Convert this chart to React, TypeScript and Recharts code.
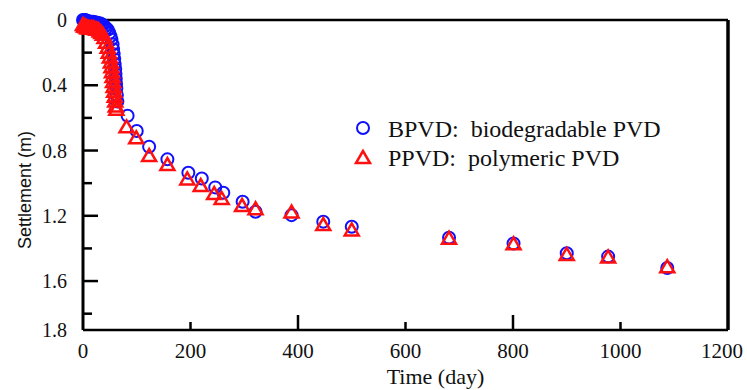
import * as React from "react";
import { ReferenceLine, Scatter, ScatterChart, XAxis, YAxis } from "recharts";

const bpvdDays = [
  0, 2, 4, 6, 8, 10, 13, 16, 19, 22, 25, 28, 31, 34, 37, 40, 43, 46, 49, 51, 53, 55, 56, 57, 58,
  59, 60, 60.5, 61, 61.5, 62, 63, 64, 83, 100, 123, 157, 196, 221, 246, 261, 297, 321, 388, 447,
  500, 681, 801, 900, 977, 1087,
];
const bpvdSettlement = [
  0, 0, 0, 0.005, 0.005, 0.01, 0.01, 0.01, 0.01, 0.015, 0.015, 0.02, 0.02, 0.025, 0.03, 0.04, 0.05,
  0.06, 0.08, 0.1, 0.12, 0.15, 0.18, 0.21, 0.24, 0.27, 0.3, 0.33, 0.36, 0.39, 0.42, 0.46, 0.5,
  0.587, 0.68, 0.777, 0.854, 0.936, 0.971, 1.026, 1.059, 1.114, 1.175, 1.196, 1.236, 1.267, 1.335,
  1.37, 1.43, 1.45, 1.52,
];
const ppvdDays = [
  0, 2, 4, 6, 8, 10, 13, 16, 19, 22, 25, 28, 31, 34, 37, 40, 43, 46, 48, 50, 52, 53, 54, 55, 56,
  57, 58, 59, 60, 61, 62, 81, 99, 123, 157, 194, 219, 244, 258, 296, 321, 388, 447, 500, 681, 801,
  900, 977, 1087,
];
const ppvdSettlement = [
  0.03, 0.04, 0.04, 0.045, 0.05, 0.05, 0.05, 0.05, 0.05, 0.055, 0.06, 0.06, 0.07, 0.08, 0.09, 0.11,
  0.14, 0.17, 0.2, 0.23, 0.26, 0.29, 0.32, 0.35, 0.38, 0.41, 0.44, 0.47, 0.5, 0.53, 0.55, 0.658,
  0.725, 0.834, 0.889, 0.977, 1.018, 1.067, 1.097, 1.14, 1.16, 1.18, 1.257, 1.29, 1.34, 1.375,
  1.44, 1.455, 1.515,
];

const seriesNames = ["BPVD:", "PPVD:"];
const seriesDescriptions = ["biodegradable PVD", "polymeric PVD"];

const xTicks = [0, 200, 400, 600, 800, 1000, 1200];
const xMajor = [0, 400, 800, 1200];
const yTicks = [0, 0.2, 0.4, 0.6, 0.8, 1, 1.2, 1.4, 1.6, 1.8, 1.9];
const yMajor = [0.4, 0.8, 1.2, 1.6];
const yLabels: Record<string, string> = {
  "0": "0",
  "0.4": "0.4",
  "0.8": "0.8",
  "1.2": "1.2",
  "1.6": "1.6",
  "1.9": "1.8",
};

const BLUE = "#1010ff";
const RED = "#ff1010";
const SERIF = "'Liberation Serif', 'Times New Roman', serif";

const bpvd = bpvdDays.map((t, i) => ({ t, s: bpvdSettlement[i] }));
const ppvd = ppvdDays.map((t, i) => ({ t, s: ppvdSettlement[i] }));

const circle = (p: any) => (
  <circle cx={p.cx} cy={p.cy} r={6} fill="none" stroke={BLUE} strokeWidth={2} />
);
const triangle = (p: any) => (
  <polygon
    points={`${p.cx},${p.cy - 7} ${p.cx - 7},${p.cy + 5} ${p.cx + 7},${p.cy + 5}`}
    fill="none"
    stroke={RED}
    strokeWidth={2.5}
  />
);

const XTick = (p: any) => {
  const v = p.payload.value;
  const len = xMajor.includes(v) ? 15 : 8;
  return (
    <g>
      {v > 0 && v < 1200 && <line x1={p.x} x2={p.x} y1={p.y} y2={p.y - len} stroke="#000" strokeWidth={2.5} />}
      <text x={v === 1200 ? p.x - 6 : p.x} y={p.y + 28} textAnchor="middle" fontFamily={SERIF} fontSize={21} fill="#111">
        {v}
      </text>
    </g>
  );
};

const YTick = (p: any) => {
  const v = p.payload.value;
  const len = yMajor.includes(v) ? 15 : 9;
  const label = yLabels[String(v)];
  return (
    <g>
      {v > 0 && v < 1.9 && <line x1={p.x} x2={p.x + len} y1={p.y} y2={p.y} stroke="#000" strokeWidth={2.5} />}
      {label && (
        <text x={p.x - 16} y={p.y + 7} textAnchor="end" fontFamily={SERIF} fontSize={20} fill="#111">
          {label}
        </text>
      )}
    </g>
  );
};

const LegendBox = () => (
  <svg width={390} height={80} style={{ position: "absolute", left: 340, top: 100 }}>
    {seriesNames.map((name, i) => {
      const cy = 28 + i * 29;
      return (
        <g key={name}>
          {i === 0 ? circle({ cx: 23, cy }) : triangle({ cx: 23, cy: cy + 1 })}
          <text x={48} y={cy + 9} fontFamily={SERIF} fontSize={24} fill="#111">
            <tspan>{name}</tspan>
            <tspan dx={12}>{seriesDescriptions[i]}</tspan>
          </text>
        </g>
      );
    })}
  </svg>
);

export default function App() {
  return (
    <div style={{ position: "absolute", left: 0, top: 0, width: 747, height: 390, background: "#fff" }}>
      <ScatterChart width={747} height={390} margin={{ top: 20, right: 19, bottom: 0, left: 0 }}>
        <XAxis
          type="number"
          dataKey="t"
          domain={[0, 1200]}
          ticks={xTicks}
          interval={0}
          height={60}
          tickSize={0}
          tickMargin={0}
          tickLine={false}
          axisLine={{ stroke: "#000", strokeWidth: 2.5 }}
          tick={<XTick />}
          label={(props: any) => {
            const vb = props.viewBox;
            return (
              <text
                x={vb.x + vb.width / 2 + 30}
                y={vb.y + 54}
                textAnchor="middle"
                fontFamily={SERIF}
                fontSize={22}
                fill="#111"
              >
                Time (day)
              </text>
            );
          }}
        />
        <YAxis
          type="number"
          dataKey="s"
          reversed
          domain={[0, 1.9]}
          ticks={yTicks}
          interval={0}
          width={83}
          tickSize={0}
          tickMargin={0}
          tickLine={false}
          axisLine={{ stroke: "#000", strokeWidth: 3 }}
          tick={<YTick />}
          label={() => (
            <text
              x={25}
              y={190}
              transform="rotate(-90 25 190)"
              textAnchor="middle"
              dominantBaseline="central"
              fontFamily="'Liberation Sans', Arial, sans-serif"
              fontSize={18}
              fill="#111"
            >
              Settlement (m)
            </text>
          )}
        />
        <ReferenceLine y={0} stroke="#000" strokeWidth={2.5} />
        <ReferenceLine x={1200} stroke="#000" strokeWidth={3.5} />
        <Scatter name="BPVD" data={bpvd} shape={circle} isAnimationActive={false} />
        <Scatter name="PPVD" data={ppvd} shape={triangle} isAnimationActive={false} />
      </ScatterChart>
      <LegendBox />
    </div>
  );
}
